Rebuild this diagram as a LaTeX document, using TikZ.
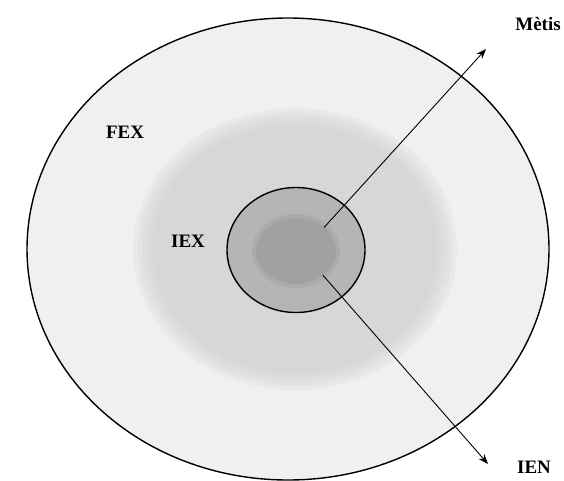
\documentclass[tikz,border=0pt]{standalone}
\usepackage{fontspec}
\setmainfont{Liberation Serif}
\usetikzlibrary{arrows.meta,shapes.geometric}
\tikzset{zone/.style={ellipse,inner sep=0pt,outer sep=0pt},
         ar/.style={-{Stealth[length=10pt,width=7.5pt]},line width=0.9pt},
         lbl/.style={font=\fontsize{19}{22}\selectfont\bfseries,inner sep=0pt}}

\begin{document}
\begin{tikzpicture}[x=1pt,y=-1pt]
\useasboundingbox (0,0) rectangle (564,480);
% outer field
\node[zone,draw,line width=1.4pt,fill=gray!12,minimum width=522pt,minimum height=462pt] (fex) at (288,249) {};
% soft middle zone
\foreach \s in {1.00,0.97,0.94,0.91,0.88}
  \fill[gray!45,opacity=0.15] (295,249) ellipse [x radius=162*\s, y radius=141*\s];
% core and kernel
\node[zone,draw,line width=1.4pt,fill=gray!58,minimum width=138pt,minimum height=125pt] (core) at (296,250) {};
\fill[gray!66] (296,251) ellipse [x radius=44, y radius=37];
\node[zone,fill=gray!74,minimum width=80pt,minimum height=66pt] (kern) at (296,251) {};
% arrows
\coordinate (metisTip) at (486,49);
\coordinate (ienTip) at (488,464);
\draw[ar] (kern.40) -- (metisTip);
\draw[ar] (kern.-42) -- (ienTip);
% labels
\node[lbl] (metis) at (538,24) {Mètis};
\node[lbl] (fexlbl) at (125,132) {FEX};
\node[lbl] (iexlbl) at (188,241) {IEX};
\node[lbl] (ienlbl) at (534,467) {IEN};
\end{tikzpicture}
\end{document}
